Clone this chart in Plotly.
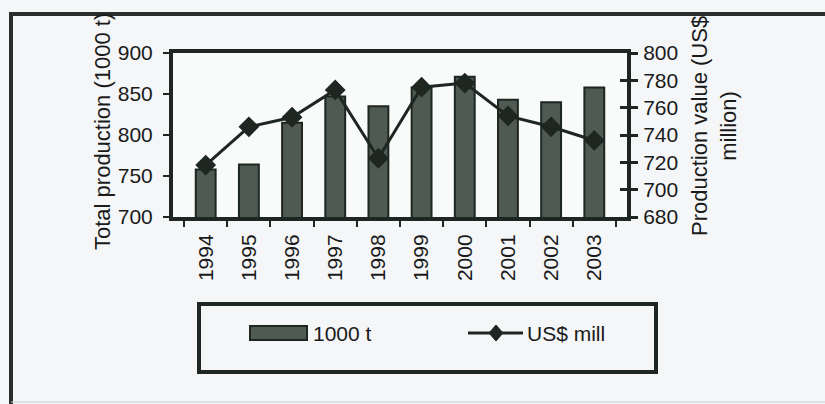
import plotly.graph_objects as go

years = ["1994", "1995", "1996", "1997", "1998", "1999", "2000", "2001", "2002", "2003"]
production_kt = [758, 764, 815, 847, 835, 858, 871, 843, 840, 858]
value_musd = [718, 746, 753, 773, 723, 775, 778, 754, 746, 736]
series_names = ["1000 t", "US$ mill"]

W, H = 825, 404
L, R, T, B = 173, 198, 53, 187
PW, PH = W - L - R, H - T - B

def px(x):
    return (x - L) / PW

def py(y):
    return (H - B - y) / PH

DARK = "#1d2621"
BAR = "#4f5b52"
FONT = "Liberation Sans, Arial, sans-serif"
FS = 21

fig = go.Figure()
fig.add_trace(go.Bar(
    x=years, y=production_kt, name=series_names[0],
    marker=dict(color=BAR, line=dict(color=DARK, width=2)),
    yaxis="y", showlegend=False,
))
fig.add_trace(go.Scatter(
    x=years, y=value_musd, name=series_names[1], mode="lines+markers",
    line=dict(color=DARK, width=3),
    marker=dict(symbol="diamond", size=16, color=DARK),
    yaxis="y2", showlegend=False,
))
# helper trace for the inner ticks of the right axis
fig.add_trace(go.Scatter(x=years, y=value_musd, yaxis="y3", mode="none",
                         showlegend=False, hoverinfo="skip"))

# legend drawn by hand (wide bar swatch as in the original)
leg_y = 333
shapes = [
    dict(type="line", xref="paper", yref="paper", x0=px(11), x1=px(11),
         y0=py(12), y1=py(406), line=dict(color="#2a2f2c", width=4)),
    dict(type="line", xref="paper", yref="paper", x0=px(9), x1=px(830),
         y0=py(14), y1=py(14), line=dict(color="#2a2f2c", width=4)),
    dict(type="line", xref="paper", yref="paper", x0=px(11), x1=px(830),
         y0=py(402), y1=py(402), line=dict(color="#c9ccce", width=1)),
    dict(type="rect", xref="paper", yref="paper", x0=px(199), x1=px(656),
         y0=py(304), y1=py(372), line=dict(color=DARK, width=4)),
    dict(type="rect", xref="paper", yref="paper", x0=px(250), x1=px(307),
         y0=py(leg_y - 7), y1=py(leg_y + 7), fillcolor=BAR,
         line=dict(color=DARK, width=2)),
    dict(type="line", xref="paper", yref="paper", x0=px(468), x1=px(523),
         y0=py(leg_y), y1=py(leg_y), line=dict(color=DARK, width=3)),
    dict(type="path", xref="paper", yref="paper",
         path="M {:.5f} {:.5f} L {:.5f} {:.5f} L {:.5f} {:.5f} L {:.5f} {:.5f} Z".format(
             px(496), py(leg_y - 8), px(503), py(leg_y), px(496), py(leg_y + 8),
             px(489), py(leg_y)),
         fillcolor=DARK, line=dict(color=DARK, width=1)),
]

annotations = [
    dict(text="Total production (1000 t)", textangle=-90, xref="paper",
         yref="paper", x=px(102), y=py(132), xanchor="center", yanchor="middle",
         showarrow=False, font=dict(size=22)),
    dict(text="Production value (US$<br>million)", textangle=-90,
         xref="paper", yref="paper", x=px(714), y=py(126), xanchor="center",
         yanchor="middle", showarrow=False, font=dict(size=22)),
    dict(text=series_names[0], xref="paper", yref="paper", x=px(311),
         y=py(leg_y), xanchor="left", yanchor="middle", showarrow=False,
         font=dict(size=FS)),
    dict(text=series_names[1], xref="paper", yref="paper", x=px(525),
         y=py(leg_y), xanchor="left", yanchor="middle", showarrow=False,
         font=dict(size=FS)),
]

fig.update_layout(
    width=W, height=H,
    margin=dict(l=L, r=R, t=T, b=B, pad=0),
    paper_bgcolor="#f4f6f8",
    plot_bgcolor="#f9fafa",
    font=dict(family=FONT, size=FS, color="#1a1a1a"),
    bargap=0.54,
    showlegend=False,
    xaxis=dict(
        type="category", tickangle=-90, tickson="boundaries", ticks="outside",
        ticklen=6, tickwidth=2, tickcolor=DARK, showline=True, linewidth=4,
        linecolor=DARK, mirror=True, showgrid=False, ticklabelstandoff=5,
        tickfont=dict(size=FS),
    ),
    yaxis=dict(
        range=[700, 900], tickvals=[700, 750, 800, 850, 900], ticks="outside",
        ticklen=6, tickwidth=2, tickcolor=DARK, showline=True, linewidth=4,
        linecolor=DARK, showgrid=False, zeroline=False, tickfont=dict(size=FS),
        ticklabelstandoff=6,
    ),
    yaxis2=dict(
        range=[680, 800], tickvals=[680, 700, 720, 740, 760, 780, 800],
        overlaying="y", side="right", ticks="outside", ticklen=7, tickwidth=3,
        tickcolor=DARK, showline=True, linewidth=4, linecolor=DARK,
        showgrid=False, zeroline=False, tickfont=dict(size=FS),
        ticklabelstandoff=1,
    ),
    yaxis3=dict(
        range=[680, 800], tickvals=[680, 700, 720, 740, 760, 780, 800],
        overlaying="y", side="right", ticks="inside", ticklen=7, tickwidth=3,
        tickcolor=DARK, showline=False, showgrid=False, zeroline=False,
        showticklabels=False,
    ),
    shapes=shapes,
    annotations=annotations,
)

fig.write_html("out.html")
